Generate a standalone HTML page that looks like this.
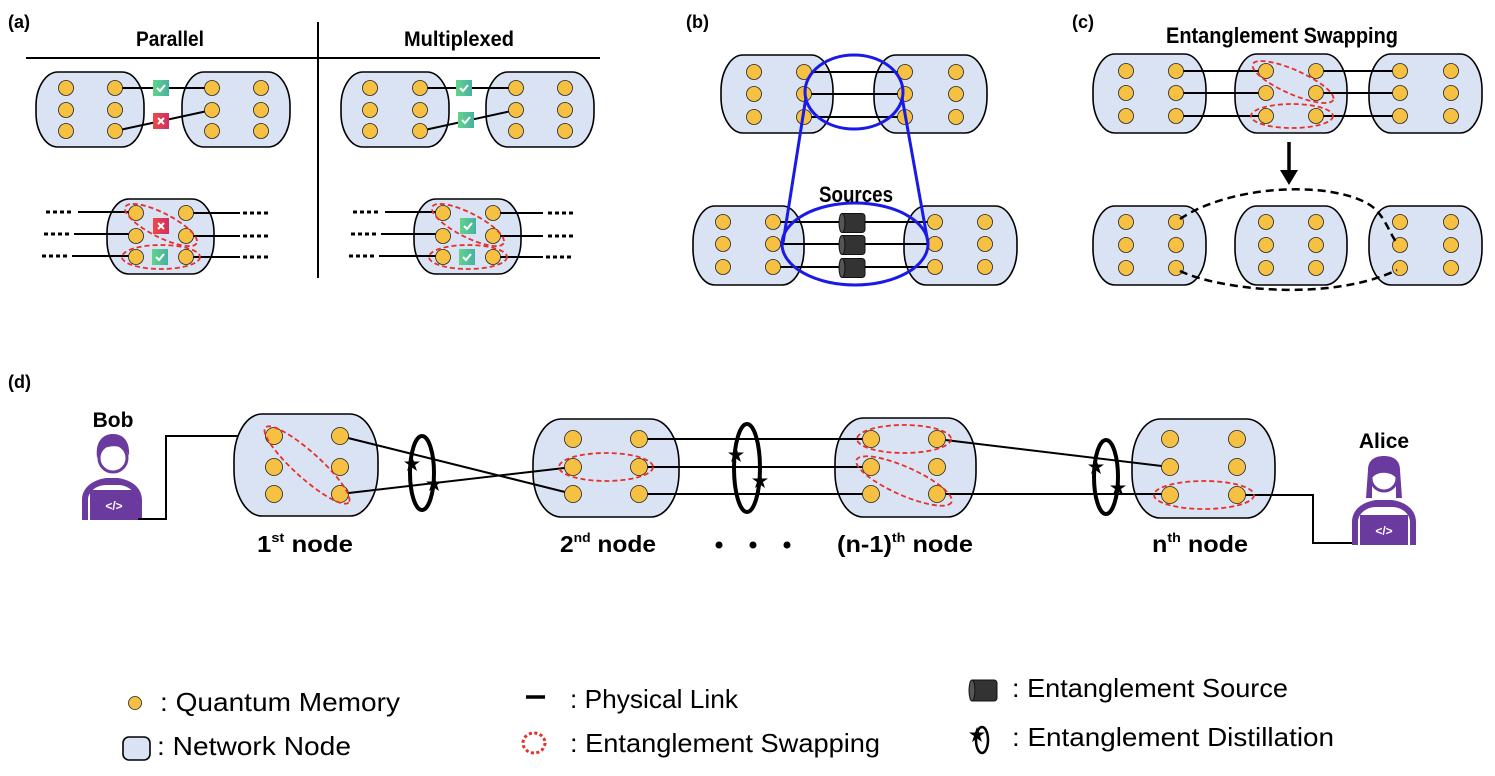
<!DOCTYPE html>
<html><head><meta charset="utf-8"><style>html,body{margin:0;padding:0;background:#fff}svg{display:block}</style></head><body>
<svg width="1495" height="776" viewBox="0 0 1495 776" xmlns="http://www.w3.org/2000/svg" font-family="Liberation Sans, sans-serif">
<defs>
<linearGradient id="gg" x1="0" x2="1"><stop offset="0" stop-color="#62d48a"/><stop offset="1" stop-color="#48b0a2"/></linearGradient>
<linearGradient id="rg" x1="0" x2="1"><stop offset="0" stop-color="#ef4848"/><stop offset="1" stop-color="#cf2f62"/></linearGradient>
<g id="ok"><rect x="-8" y="-8" width="16" height="16" fill="url(#gg)"/><path d="M-4,0 L-1,3 L4,-3" stroke="#fff" stroke-width="2" fill="none"/></g>
<g id="no"><rect x="-8" y="-8" width="16" height="16" fill="url(#rg)"/><path d="M-3,-3 L3,3 M3,-3 L-3,3" stroke="#fff" stroke-width="2"/></g>
<g id="cyl"><rect x="-12" y="-9.5" width="25" height="19" rx="3" fill="#333" stroke="#111"/><ellipse cx="-10" cy="0" rx="3" ry="9.5" fill="#555" stroke="#111"/></g>
<g id="star"><path d="M0,-8 L2,-2.5 L8,-2.5 L3,1 L5,7 L0,3.5 L-5,7 L-3,1 L-8,-2.5 L-2,-2.5Z" fill="#000"/></g>
</defs>
<style>
.n{fill:#dae3f3;stroke:#000;stroke-width:1.6}
.d{fill:#f6c142;stroke:#222;stroke-width:0.8}
.l{stroke:#000;stroke-width:2;fill:none}
.dot{stroke:#000;stroke-width:3;stroke-dasharray:4 3;fill:none}
.r{fill:none;stroke:#e8302a;stroke-width:1.8;stroke-dasharray:5 3}
.b{fill:none;stroke:#1a1ae6;stroke-width:3}
.t{font-weight:bold;fill:#000}
</style>

<!-- (a) -->
<text x="8" y="28" class="t" font-size="18">(a)</text>
<text x="170" y="46" class="t" font-size="21" text-anchor="middle" textLength="68" lengthAdjust="spacingAndGlyphs">Parallel</text>
<text x="459" y="46" class="t" font-size="21" text-anchor="middle" textLength="110" lengthAdjust="spacingAndGlyphs">Multiplexed</text>
<line x1="26" y1="58" x2="600" y2="58" stroke="#000" stroke-width="2"/>
<line x1="318" y1="22" x2="318" y2="278" stroke="#000" stroke-width="2"/>

<rect class="n" x="36" y="72" width="108" height="75" rx="22" ry="34"/>
<rect class="n" x="182" y="72" width="108" height="75" rx="22" ry="34"/>
<line class="l" x1="115" y1="88" x2="212" y2="88"/>
<line class="l" x1="115" y1="131" x2="212" y2="110"/>
<use href="#ok" x="161" y="88"/><use href="#no" x="161" y="121"/>
<g class="d"><circle cx="66" cy="88" r="7.5"/><circle cx="115" cy="88" r="7.5"/><circle cx="66" cy="110" r="7.5"/><circle cx="115" cy="110" r="7.5"/><circle cx="66" cy="131" r="7.5"/><circle cx="115" cy="131" r="7.5"/>
<circle cx="212" cy="88" r="7.5"/><circle cx="261" cy="88" r="7.5"/><circle cx="212" cy="110" r="7.5"/><circle cx="261" cy="110" r="7.5"/><circle cx="212" cy="131" r="7.5"/><circle cx="261" cy="131" r="7.5"/></g>

<rect class="n" x="341" y="72" width="108" height="75" rx="22" ry="34"/>
<rect class="n" x="486" y="72" width="108" height="75" rx="22" ry="34"/>
<line class="l" x1="420" y1="88" x2="516" y2="88"/>
<line class="l" x1="420" y1="131" x2="516" y2="110"/>
<use href="#ok" x="464" y="88"/><use href="#ok" x="466" y="120"/>
<g class="d"><circle cx="370" cy="88" r="7.5"/><circle cx="420" cy="88" r="7.5"/><circle cx="370" cy="110" r="7.5"/><circle cx="420" cy="110" r="7.5"/><circle cx="370" cy="131" r="7.5"/><circle cx="420" cy="131" r="7.5"/>
<circle cx="516" cy="88" r="7.5"/><circle cx="565" cy="88" r="7.5"/><circle cx="516" cy="110" r="7.5"/><circle cx="565" cy="110" r="7.5"/><circle cx="516" cy="131" r="7.5"/><circle cx="565" cy="131" r="7.5"/></g>

<!-- (a) bottom parallel -->
<rect class="n" x="107" y="199" width="107" height="75" rx="22" ry="34"/>
<g class="l"><line x1="78" y1="212" x2="130" y2="212"/><line x1="74" y1="234" x2="130" y2="234"/><line x1="72" y1="256" x2="130" y2="256"/>
<line x1="192" y1="213" x2="240" y2="213"/><line x1="192" y1="236" x2="240" y2="236"/><line x1="192" y1="257" x2="240" y2="257"/></g>
<g class="dot"><line x1="46" y1="212" x2="72" y2="212"/><line x1="44" y1="234" x2="70" y2="234"/><line x1="42" y1="256" x2="68" y2="256"/>
<line x1="243" y1="213" x2="269" y2="213"/><line x1="243" y1="236" x2="269" y2="236"/><line x1="243" y1="257" x2="269" y2="257"/></g>
<use href="#no" x="161" y="226"/><use href="#ok" x="160" y="257"/>
<g class="d"><circle cx="136" cy="213" r="7.5"/><circle cx="186" cy="213" r="7.5"/><circle cx="136" cy="236" r="7.5"/><circle cx="186" cy="236" r="7.5"/><circle cx="136" cy="257" r="7.5"/><circle cx="186" cy="257" r="7.5"/></g>
<ellipse class="r" cx="161" cy="225" rx="40" ry="12" transform="rotate(27 161 225)"/>
<ellipse class="r" cx="161" cy="257" rx="39" ry="12"/>

<!-- (a) bottom multiplexed -->
<rect class="n" x="414" y="199" width="107" height="75" rx="22" ry="34"/>
<g class="l"><line x1="385" y1="212" x2="437" y2="212"/><line x1="381" y1="234" x2="437" y2="234"/><line x1="379" y1="256" x2="437" y2="256"/>
<line x1="499" y1="213" x2="543" y2="213"/><line x1="499" y1="236" x2="543" y2="236"/><line x1="499" y1="257" x2="543" y2="257"/></g>
<g class="dot"><line x1="353" y1="212" x2="379" y2="212"/><line x1="351" y1="234" x2="377" y2="234"/><line x1="349" y1="256" x2="375" y2="256"/>
<line x1="548" y1="213" x2="574" y2="213"/><line x1="548" y1="236" x2="574" y2="236"/><line x1="546" y1="257" x2="572" y2="257"/></g>
<use href="#ok" x="468" y="226"/><use href="#ok" x="467" y="257"/>
<g class="d"><circle cx="443" cy="213" r="7.5"/><circle cx="493" cy="213" r="7.5"/><circle cx="443" cy="236" r="7.5"/><circle cx="493" cy="236" r="7.5"/><circle cx="443" cy="257" r="7.5"/><circle cx="493" cy="257" r="7.5"/></g>
<ellipse class="r" cx="468" cy="225" rx="40" ry="12" transform="rotate(27 468 225)"/>
<ellipse class="r" cx="468" cy="257" rx="39" ry="12"/>

<!-- (b) -->
<text x="686" y="28" class="t" font-size="18">(b)</text>
<rect class="n" x="721" y="55" width="112" height="78" rx="22" ry="36"/>
<rect class="n" x="874" y="55" width="113" height="78" rx="22" ry="36"/>
<g class="l"><line x1="804" y1="72" x2="905" y2="72"/><line x1="804" y1="94" x2="905" y2="94"/><line x1="804" y1="117" x2="905" y2="117"/></g>
<g class="d"><circle cx="754" cy="72" r="7.5"/><circle cx="804" cy="72" r="7.5"/><circle cx="754" cy="94" r="7.5"/><circle cx="804" cy="94" r="7.5"/><circle cx="754" cy="117" r="7.5"/><circle cx="804" cy="117" r="7.5"/>
<circle cx="905" cy="72" r="7.5"/><circle cx="956" cy="72" r="7.5"/><circle cx="905" cy="94" r="7.5"/><circle cx="956" cy="94" r="7.5"/><circle cx="905" cy="117" r="7.5"/><circle cx="956" cy="117" r="7.5"/></g>
<ellipse class="b" cx="854" cy="92" rx="49" ry="37"/>
<rect class="n" x="693" y="206" width="111" height="79" rx="22" ry="36"/>
<rect class="n" x="904" y="206" width="113" height="79" rx="22" ry="36"/>
<g class="l"><line x1="773" y1="222" x2="935" y2="222"/><line x1="773" y1="244" x2="935" y2="244"/><line x1="773" y1="267" x2="935" y2="267"/></g>
<g class="d"><circle cx="723" cy="222" r="7.5"/><circle cx="773" cy="222" r="7.5"/><circle cx="723" cy="244" r="7.5"/><circle cx="773" cy="244" r="7.5"/><circle cx="723" cy="267" r="7.5"/><circle cx="773" cy="267" r="7.5"/>
<circle cx="935" cy="222" r="7.5"/><circle cx="985" cy="222" r="7.5"/><circle cx="935" cy="244" r="7.5"/><circle cx="985" cy="244" r="7.5"/><circle cx="935" cy="267" r="7.5"/><circle cx="985" cy="267" r="7.5"/></g>
<use href="#cyl" x="852" y="223"/><use href="#cyl" x="852" y="245"/><use href="#cyl" x="852" y="268"/>
<ellipse class="b" cx="855" cy="244" rx="73" ry="41"/>
<line class="b" x1="806" y1="97" x2="783" y2="243"/>
<line class="b" x1="902" y1="97" x2="928" y2="243"/>
<text x="856" y="202" class="t" font-size="22" text-anchor="middle" textLength="74" lengthAdjust="spacingAndGlyphs">Sources</text>

<!-- (c) -->
<text x="1072" y="28" class="t" font-size="18">(c)</text>
<text x="1282" y="43" class="t" font-size="22" text-anchor="middle" textLength="232" lengthAdjust="spacingAndGlyphs">Entanglement Swapping</text>
<rect class="n" x="1093" y="54" width="113" height="79" rx="22" ry="36"/>
<rect class="n" x="1235" y="54" width="112" height="79" rx="22" ry="36"/>
<rect class="n" x="1369" y="54" width="113" height="79" rx="22" ry="36"/>
<g class="l"><line x1="1176" y1="71" x2="1266" y2="71"/><line x1="1176" y1="93" x2="1266" y2="93"/><line x1="1176" y1="116" x2="1266" y2="116"/>
<line x1="1316" y1="71" x2="1400" y2="71"/><line x1="1316" y1="93" x2="1400" y2="93"/><line x1="1316" y1="116" x2="1400" y2="116"/></g>
<g class="d"><circle cx="1126" cy="71" r="7.5"/><circle cx="1176" cy="71" r="7.5"/><circle cx="1126" cy="93" r="7.5"/><circle cx="1176" cy="93" r="7.5"/><circle cx="1126" cy="116" r="7.5"/><circle cx="1176" cy="116" r="7.5"/>
<circle cx="1266" cy="71" r="7.5"/><circle cx="1316" cy="71" r="7.5"/><circle cx="1266" cy="93" r="7.5"/><circle cx="1316" cy="93" r="7.5"/><circle cx="1266" cy="116" r="7.5"/><circle cx="1316" cy="116" r="7.5"/>
<circle cx="1400" cy="71" r="7.5"/><circle cx="1451" cy="71" r="7.5"/><circle cx="1400" cy="93" r="7.5"/><circle cx="1451" cy="93" r="7.5"/><circle cx="1400" cy="116" r="7.5"/><circle cx="1451" cy="116" r="7.5"/></g>
<ellipse class="r" cx="1293" cy="82" rx="44" ry="12" transform="rotate(24 1293 82)"/>
<ellipse class="r" cx="1292" cy="116" rx="41" ry="12"/>
<line x1="1289" y1="142" x2="1289" y2="172" stroke="#000" stroke-width="3.5"/>
<path d="M1280,170 L1298,170 L1289,185Z" fill="#000"/>
<rect class="n" x="1093" y="206" width="113" height="79" rx="22" ry="36"/>
<rect class="n" x="1235" y="206" width="112" height="79" rx="22" ry="36"/>
<rect class="n" x="1369" y="206" width="113" height="79" rx="22" ry="36"/>
<g class="d"><circle cx="1126" cy="222" r="7.5"/><circle cx="1176" cy="222" r="7.5"/><circle cx="1126" cy="245" r="7.5"/><circle cx="1176" cy="245" r="7.5"/><circle cx="1126" cy="268" r="7.5"/><circle cx="1176" cy="268" r="7.5"/>
<circle cx="1266" cy="222" r="7.5"/><circle cx="1316" cy="222" r="7.5"/><circle cx="1266" cy="245" r="7.5"/><circle cx="1316" cy="245" r="7.5"/><circle cx="1266" cy="268" r="7.5"/><circle cx="1316" cy="268" r="7.5"/>
<circle cx="1400" cy="222" r="7.5"/><circle cx="1451" cy="222" r="7.5"/><circle cx="1400" cy="245" r="7.5"/><circle cx="1451" cy="245" r="7.5"/><circle cx="1400" cy="268" r="7.5"/><circle cx="1451" cy="268" r="7.5"/></g>
<path d="M1180,219 C1230,185 1330,180 1370,205 C1385,215 1390,235 1397,243" fill="none" stroke="#000" stroke-width="2.5" stroke-dasharray="8 5"/>
<path d="M1180,271 C1220,290 1330,302 1397,270" fill="none" stroke="#000" stroke-width="2.5" stroke-dasharray="8 5"/>

<!-- (d) -->
<text x="8" y="388" class="t" font-size="18">(d)</text>
<text x="113" y="427" class="t" font-size="21" text-anchor="middle">Bob</text>
<g fill="#6b3a9e">
<path d="M82,520 L82,500 C82,488 92,480 106,478 L118,478 C132,480 142,488 142,500 L142,520 L136,520 L136,500 C136,492 128,485 118,485 L106,485 C96,485 88,492 88,500 L88,520Z"/>
<path d="M97,458 C95,440 104,434 113,434 C124,434 130,442 129,456 C126,447 118,445 108,447 C102,448 99,452 97,458Z"/>
<rect x="90" y="490" width="48" height="30"/>
</g>
<circle cx="113" cy="458" r="14" fill="none" stroke="#6b3a9e" stroke-width="3"/>
<text x="114" y="510" font-size="12" fill="#fff" text-anchor="middle" font-weight="bold">&lt;/&gt;</text>
<path class="l" d="M138,519 H166 V436 H274"/>

<rect class="n" x="234" y="414" width="144" height="102" rx="28" ry="46"/>
<rect class="n" x="533" y="419" width="146" height="98" rx="28" ry="45"/>
<rect class="n" x="835" y="418" width="141" height="99" rx="28" ry="45"/>
<rect class="n" x="1132" y="419" width="143" height="99" rx="28" ry="45"/>
<g class="l">
<line x1="340" y1="436" x2="573" y2="494"/>
<line x1="340" y1="494" x2="573" y2="467"/>
<line x1="639" y1="439" x2="871" y2="439"/><line x1="639" y1="467" x2="871" y2="467"/><line x1="639" y1="494" x2="871" y2="494"/>
<line x1="937" y1="439" x2="1170" y2="467"/>
<line x1="937" y1="494" x2="1170" y2="494"/>
<path d="M1237,495 H1313 V543 H1355"/>
</g>
<g class="d">
<circle cx="274" cy="436" r="8.5"/><circle cx="340" cy="436" r="8.5"/><circle cx="274" cy="467" r="8.5"/><circle cx="340" cy="467" r="8.5"/><circle cx="274" cy="494" r="8.5"/><circle cx="340" cy="494" r="8.5"/>
<circle cx="573" cy="439" r="8.5"/><circle cx="639" cy="439" r="8.5"/><circle cx="573" cy="467" r="8.5"/><circle cx="639" cy="467" r="8.5"/><circle cx="573" cy="494" r="8.5"/><circle cx="639" cy="494" r="8.5"/>
<circle cx="871" cy="439" r="8.5"/><circle cx="937" cy="439" r="8.5"/><circle cx="871" cy="467" r="8.5"/><circle cx="937" cy="467" r="8.5"/><circle cx="871" cy="494" r="8.5"/><circle cx="937" cy="494" r="8.5"/>
<circle cx="1170" cy="439" r="8.5"/><circle cx="1237" cy="439" r="8.5"/><circle cx="1170" cy="467" r="8.5"/><circle cx="1237" cy="467" r="8.5"/><circle cx="1170" cy="495" r="8.5"/><circle cx="1237" cy="495" r="8.5"/>
</g>
<ellipse class="r" cx="307" cy="465" rx="56" ry="13" transform="rotate(42 307 465)"/>
<ellipse class="r" cx="606" cy="467" rx="47" ry="14"/>
<ellipse class="r" cx="904" cy="439" rx="47" ry="14"/>
<ellipse class="r" cx="904" cy="481" rx="52" ry="14" transform="rotate(24 904 481)"/>
<ellipse class="r" cx="1204" cy="495" rx="50" ry="14"/>

<g fill="none" stroke="#000" stroke-width="4">
<ellipse cx="422" cy="473" rx="12" ry="37"/>
<ellipse cx="747" cy="468" rx="13" ry="44"/>
<ellipse cx="1106" cy="477" rx="12" ry="37"/>
</g>
<use href="#star" x="412" y="464"/><use href="#star" x="434" y="484"/>
<use href="#star" x="736" y="455"/><use href="#star" x="760" y="481"/>
<use href="#star" x="1096" y="467"/><use href="#star" x="1118" y="488"/>

<g fill="#000"><circle cx="719" cy="545" r="3.5"/><circle cx="753" cy="545" r="3.5"/><circle cx="787" cy="545" r="3.5"/></g>
<g class="t" font-size="23">
<text x="305" y="552" text-anchor="middle" textLength="96" lengthAdjust="spacingAndGlyphs">1<tspan font-size="13" dy="-10">st</tspan><tspan dy="10"> node</tspan></text>
<text x="608" y="552" text-anchor="middle" textLength="96" lengthAdjust="spacingAndGlyphs">2<tspan font-size="13" dy="-10">nd</tspan><tspan dy="10"> node</tspan></text>
<text x="905" y="552" text-anchor="middle" textLength="136" lengthAdjust="spacingAndGlyphs">(n-1)<tspan font-size="13" dy="-10">th</tspan><tspan dy="10"> node</tspan></text>
<text x="1200" y="552" text-anchor="middle" textLength="96" lengthAdjust="spacingAndGlyphs">n<tspan font-size="13" dy="-10">th</tspan><tspan dy="10"> node</tspan></text>
</g>

<text x="1384" y="448" class="t" font-size="21" text-anchor="middle">Alice</text>
<g fill="#6b3a9e">
<path d="M1352,545 L1352,522 C1352,510 1362,502 1376,500 L1392,500 C1406,502 1416,510 1416,522 L1416,545 L1410,545 L1410,522 C1410,514 1402,507 1392,507 L1376,507 C1366,507 1358,514 1358,522 L1358,545Z"/>
<path d="M1366,498 L1368,470 C1368,460 1375,456 1384,456 C1393,456 1400,460 1400,470 L1402,498 L1396,498 L1396,478 C1392,472 1378,470 1372,478 L1372,498Z"/>
<rect x="1360" y="515" width="48" height="30"/>
</g>
<circle cx="1384" cy="478" r="13" fill="none" stroke="#6b3a9e" stroke-width="3"/>
<text x="1384" y="535" font-size="12" fill="#fff" text-anchor="middle" font-weight="bold">&lt;/&gt;</text>

<!-- legend -->
<circle cx="135" cy="703" r="6.5" class="d" stroke-width="1"/>
<text x="160" y="711" font-size="26" textLength="240" lengthAdjust="spacingAndGlyphs">: Quantum Memory</text>
<rect x="123" y="737" width="27" height="23" rx="6" fill="#dae3f3" stroke="#000" stroke-width="1.6"/>
<text x="157" y="755" font-size="26" textLength="194" lengthAdjust="spacingAndGlyphs">: Network Node</text>
<line x1="526" y1="697" x2="545" y2="697" stroke="#000" stroke-width="3.5"/>
<text x="570" y="708" font-size="26" textLength="168" lengthAdjust="spacingAndGlyphs">: Physical Link</text>
<ellipse cx="534" cy="743" rx="11" ry="10" fill="none" stroke="#e8302a" stroke-width="3" stroke-dasharray="3 2.5"/>
<text x="570" y="752" font-size="26" textLength="310" lengthAdjust="spacingAndGlyphs">: Entanglement Swapping</text>
<rect x="970" y="680" width="27" height="21" rx="3" fill="#333" stroke="#111"/>
<ellipse cx="972" cy="690.5" rx="3" ry="10.5" fill="#555" stroke="#111"/>
<text x="1012" y="697" font-size="26" textLength="276" lengthAdjust="spacingAndGlyphs">: Entanglement Source</text>
<ellipse cx="982" cy="740" rx="6" ry="13" fill="none" stroke="#000" stroke-width="2.5"/>
<use href="#star" x="977" y="735"/>
<text x="1012" y="746" font-size="26" textLength="322" lengthAdjust="spacingAndGlyphs">: Entanglement Distillation</text>
</svg>
</body></html>
